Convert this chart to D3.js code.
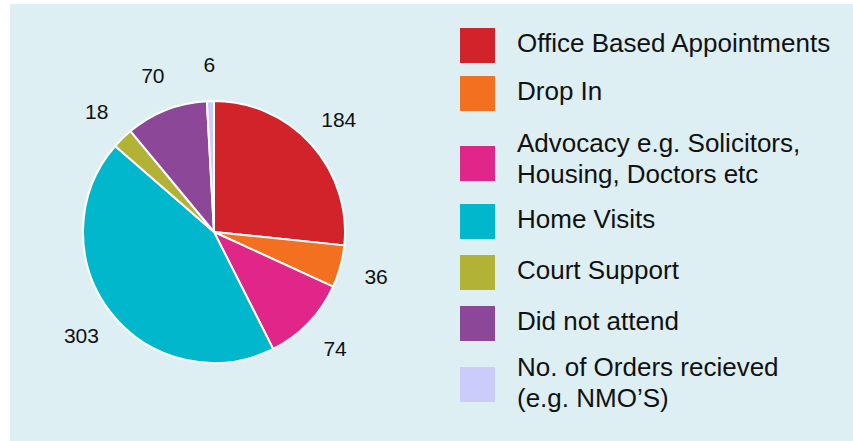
<!DOCTYPE html>
<html lang="en">
<head>
  <meta charset="UTF-8" />
  <title>Appointments pie</title>
  <script src="https://d3js.org/d3.v7.min.js"></script>
  <style>
    body {
      margin: 0;
      overflow: hidden;
      background: #fff;
    }
    text {
      font-family: "Liberation Sans", Arial, Helvetica, sans-serif;
      fill: #111;
    }
  </style>
</head>
<body>
<svg width="853" height="441"></svg>
<script>
const categories = [
  "Office Based Appointments",
  "Drop In",
  "Advocacy e.g. Solicitors,\nHousing, Doctors etc",
  "Home Visits",
  "Court Support",
  "Did not attend",
  "No. of Orders recieved\n(e.g. NMO\u2019S)"
];
const values = [184, 36, 74, 303, 18, 70, 6];
const colors = ["#d2232a", "#f37021", "#e1268a", "#00b7cc", "#b1b236", "#8c4799", "#ccccfa"];

const svg = d3.select("svg");

// panel background
svg.append("rect")
  .attr("x", 10).attr("y", 4)
  .attr("width", 843).attr("height", 437)
  .attr("fill", "#ddeff3");

const cx = 214, cy = 232, r = 131;
const g = svg.append("g").attr("transform", `translate(${cx},${cy})`);

const data = categories.map((c, i) => ({ name: c, value: values[i], color: colors[i] }));

const pie = d3.pie().value(d => d.value).sort(null);
const arc = d3.arc().innerRadius(0).outerRadius(r);
const labelArc = d3.arc().innerRadius(168).outerRadius(168);

const arcs = pie(data);

g.selectAll("path")
  .data(arcs)
  .enter()
  .append("path")
  .attr("d", arc)
  .attr("fill", d => d.data.color)
  .attr("stroke", "#fff")
  .attr("stroke-width", 2)
  .attr("stroke-linejoin", "round");

g.selectAll(".lbl")
  .data(arcs)
  .enter()
  .append("text")
  .attr("class", "lbl")
  .attr("transform", d => `translate(${labelArc.centroid(d)})`)
  .attr("text-anchor", "middle")
  .attr("dy", "0.36em")
  .attr("font-size", 21)
  .text(d => d.data.value);

// legend
const rowY = [28, 76, 146, 204, 255, 306, 367];
const legend = svg.append("g");
const items = legend.selectAll("g")
  .data(data)
  .enter()
  .append("g")
  .attr("transform", (d, i) => `translate(460,${rowY[i]})`);

items.append("rect")
  .attr("width", 35).attr("height", 35)
  .attr("fill", d => d.color);

items.each(function(d, i) {
  const lines = d.name.split("\n");
  const t = d3.select(this).append("text")
    .attr("font-size", 26)
    .attr("x", 57);
  const first = lines.length > 1 ? (i === 6 ? 9 : 6) : 24;
  lines.forEach((ln, j) => {
    t.append("tspan")
      .attr("x", 57)
      .attr("y", first + j * 31)
      .text(ln);
  });
});
</script>
</body>
</html>
